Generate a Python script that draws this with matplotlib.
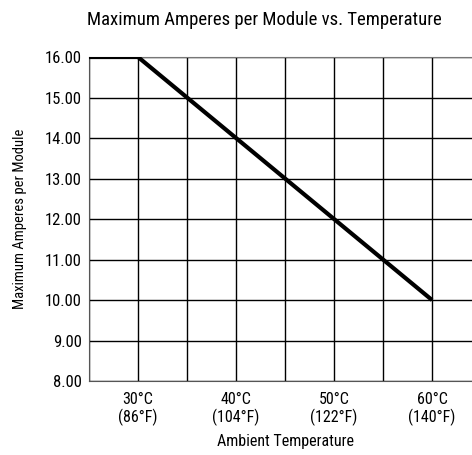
import matplotlib.pyplot as plt

# derating curve
temp_c = [25, 30, 60]
amps = [16.0, 16.0, 10.0]

grid_x = [25, 30, 35, 40, 45, 50, 55, 60, 65]
tick_labels = ["", "30°C\n(86°F)", "", "40°C\n(104°F)", "",
               "50°C\n(122°F)", "", "60°C\n(140°F)", ""]
y_ticks = [8, 9, 10, 11, 12, 13, 14, 15, 16]

plt.rcParams['font.family'] = ['Roboto Condensed', 'DejaVu Sans']
plt.rcParams['font.stretch'] = 'condensed'

fig = plt.figure(figsize=(4.72, 4.55), dpi=100)
# axes runs a little past the right edge, like the original
ax = fig.add_axes([0.1886, 0.1626, 0.8305, 0.7121])

ax.plot(temp_c, amps, color='black', linewidth=3, solid_capstyle='butt', zorder=3)

ax.set_xlim(25, 65)
ax.set_ylim(8, 16)
ax.set_xticks(grid_x)
ax.set_xticklabels(tick_labels, fontsize=11.5, linespacing=1.1)
ax.set_yticks(y_ticks)
ax.set_yticklabels([f"{v:.2f}" for v in y_ticks], fontsize=12)
ax.tick_params(length=0, pad=8)
ax.tick_params(axis='y', pad=5)
ax.grid(True, color='black', linewidth=1)

ax.spines['right'].set_visible(False)
ax.spines['top'].set_color('#777777')
ax.spines['left'].set_color('#555555')
ax.spines['bottom'].set_color('#555555')

ax.set_xlabel('Ambient Temperature', fontsize=11.5, labelpad=6)
ax.set_ylabel('Maximum Amperes per Module', fontsize=10.5, labelpad=13)
fig.text(0.56, 0.955, 'Maximum Amperes per Module vs. Temperature',
         ha='center', va='center', fontsize=13.5)

fig.savefig('out.png', dpi=100)
